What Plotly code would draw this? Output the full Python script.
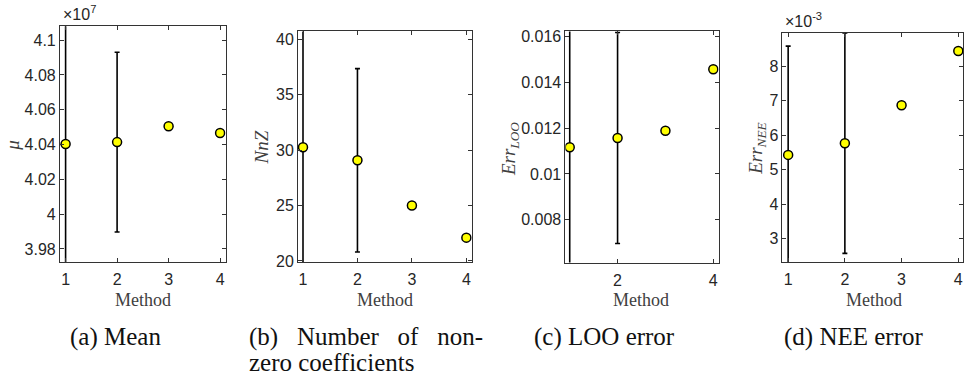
import plotly.graph_objects as go

W, H = 964, 378

methods = [1, 2, 3, 4]

# (a) mean
mean_mu = [4.0403e7, 4.0414e7, 4.0505e7, 4.0466e7]
mean_mu_err = [0.09e7, 0.0517e7, 0.0, 0.0]
mu_scale = 1e7
mu_ticks = [3.98, 4.0, 4.02, 4.04, 4.06, 4.08, 4.1]
mu_ticklabels = ["3.98", "4", "4.02", "4.04", "4.06", "4.08", "4.1"]

# (b) number of non-zero coefficients
nnz = [30.25, 29.08, 25.0, 22.1]
nnz_err = [11.0, 8.27, 0.0, 0.0]
nnz_ticks = [20, 25, 30, 35, 40]
nnz_ticklabels = ["20", "25", "30", "35", "40"]

# (c) LOO error
err_loo = [0.01116, 0.01157, 0.01188, 0.01456]
err_loo_err = [0.0062, 0.0046, 0.0, 0.0]
loo_ticks = [0.008, 0.010, 0.012, 0.014, 0.016]
loo_ticklabels = ["0.008", "0.01", "0.012", "0.014", "0.016"]

# (d) NEE error
err_nee = [5.43e-3, 5.77e-3, 6.87e-3, 8.45e-3]
err_nee_err = [3.16e-3, 3.20e-3, 0.0, 0.0]
nee_scale = 1e-3
nee_ticks = [3, 4, 5, 6, 7, 8]
nee_ticklabels = ["3", "4", "5", "6", "7", "8"]

x_ticks_full = [1, 2, 3, 4]
x_ticks_c = [2, 4]

captions = ["(a) Mean",
            "(b)\u00a0\u00a0\u00a0Number\u00a0\u00a0\u00a0of\u00a0\u00a0\u00a0non-",
            "(c) LOO error",
            "(d) NEE error"]
caption_line2 = "zero coefficients"
ylabels = ["<i>\u03bc</i>", "<i>NnZ</i>",
           "<i>Err</i><sub><i>LOO</i></sub>",
           "<i>Err</i><sub><i>NEE</i></sub>"]

AX = "#262626"
SANS = "Liberation Sans, Arial, sans-serif"
SERIF = "Liberation Serif"

# panel layout in pixels: left, right, top, bottom
panels = [
    dict(px=(60, 226, 24, 266.7), xr=[0.89, 4.11], yr=[3.9725, 4.108],
         y=[v / mu_scale for v in mean_mu], e=[v / mu_scale for v in mean_mu_err],
         yt=mu_ticks, ytl=mu_ticklabels, xt=x_ticks_full,
         ylab_px=(13, 146), xlab_px=143, cap_px=68, exp="\u00d710<sup>7</sup>"),
    dict(px=(298.3, 472.3, 29.3, 266.7), xr=[0.908, 4.10], yr=[19.91, 40.7],
         y=nnz, e=nnz_err, yt=nnz_ticks, ytl=nnz_ticklabels, xt=x_ticks_full,
         ylab_px=(262, 149), xlab_px=385, cap_px=247, exp=None),
    dict(px=(566, 719.3, 29.3, 267.3), xr=[0.91, 4.11], yr=[0.00614, 0.01621],
         y=err_loo, e=err_loo_err, yt=loo_ticks, ytl=loo_ticklabels, xt=x_ticks_c,
         ylab_px=(510, 150), xlab_px=642, cap_px=533, exp=None),
    dict(px=(783.3, 964, 30.7, 266.7), xr=[0.90, 4.083], yr=[2.32, 8.976],
         y=[v / nee_scale for v in err_nee], e=[v / nee_scale for v in err_nee_err],
         yt=nee_ticks, ytl=nee_ticklabels, xt=x_ticks_full,
         ylab_px=(757, 150), xlab_px=875, cap_px=783, exp="\u00d710<sup>-3</sup>"),
]

fig = go.Figure()
annotations = []
layout = dict(width=W, height=H, margin=dict(l=0, r=0, t=0, b=0),
              paper_bgcolor="white", plot_bgcolor="white", showlegend=False)

def px2x(x):
    return x / W

def px2y(y):
    return 1 - y / H

for i, p in enumerate(panels):
    n = "" if i == 0 else str(i + 1)
    l, r, t, b = p["px"]
    common = dict(showline=True, linecolor="#333333", linewidth=1, mirror="ticks",
                  ticks="inside", ticklen=4, tickcolor="#333333", tickwidth=1,
                  showgrid=False, zeroline=False,
                  tickfont=dict(family=SANS, size=16, color=AX))
    layout["xaxis" + n] = dict(domain=[px2x(l), min(px2x(r), 1.0)], range=p["xr"],
                               anchor="y" + n, tickmode="array", tickvals=p["xt"],
                               ticktext=[str(v) for v in p["xt"]],
                               ticklabelstandoff=3, **common)
    layout["yaxis" + n] = dict(domain=[px2y(b), px2y(t)], range=p["yr"],
                               anchor="x" + n, tickmode="array", tickvals=p["yt"],
                               ticktext=p["ytl"], **common)
    fig.add_trace(go.Scatter(
        x=methods, y=p["y"], mode="markers", xaxis="x" + n, yaxis="y" + n,
        marker=dict(size=9, color="#FFFF00", line=dict(color="black", width=1.5)),
        error_y=dict(type="data", array=p["e"], visible=True, color="black",
                     thickness=1.6, width=2.5),
        cliponaxis=True, hoverinfo="skip"))
    # y label
    annotations.append(dict(x=px2x(p["ylab_px"][0]), y=px2y(p["ylab_px"][1]),
                            xref="paper", yref="paper", text=ylabels[i],
                            textangle=-90, showarrow=False, xanchor="center",
                            yanchor="middle",
                            font=dict(family=SERIF, size=19, color="#404040")))
    # x label
    annotations.append(dict(x=px2x(p["xlab_px"]), y=px2y(306), xref="paper",
                            yref="paper", text="Method", showarrow=False,
                            xanchor="center", yanchor="middle",
                            font=dict(family=SERIF, size=18, color="#404040")))
    # caption
    annotations.append(dict(x=px2x(p["cap_px"]), y=px2y(344), xref="paper",
                            yref="paper", text=captions[i], showarrow=False,
                            xanchor="left", yanchor="middle",
                            font=dict(family=SERIF, size=25, color="#111111")))
    if p["exp"]:
        annotations.append(dict(x=px2x(l + 1), y=px2y(t - 1), xref="paper",
                                yref="paper", text=p["exp"], showarrow=False,
                                xanchor="left", yanchor="bottom",
                                font=dict(family=SANS, size=16, color=AX)))

annotations.append(dict(x=px2x(247), y=px2y(370), xref="paper", yref="paper",
                        text=caption_line2, showarrow=False, xanchor="left",
                        yanchor="middle",
                        font=dict(family=SERIF, size=25, color="#111111")))

layout["annotations"] = annotations
fig.update_layout(**layout)
fig.write_html("out.html")
